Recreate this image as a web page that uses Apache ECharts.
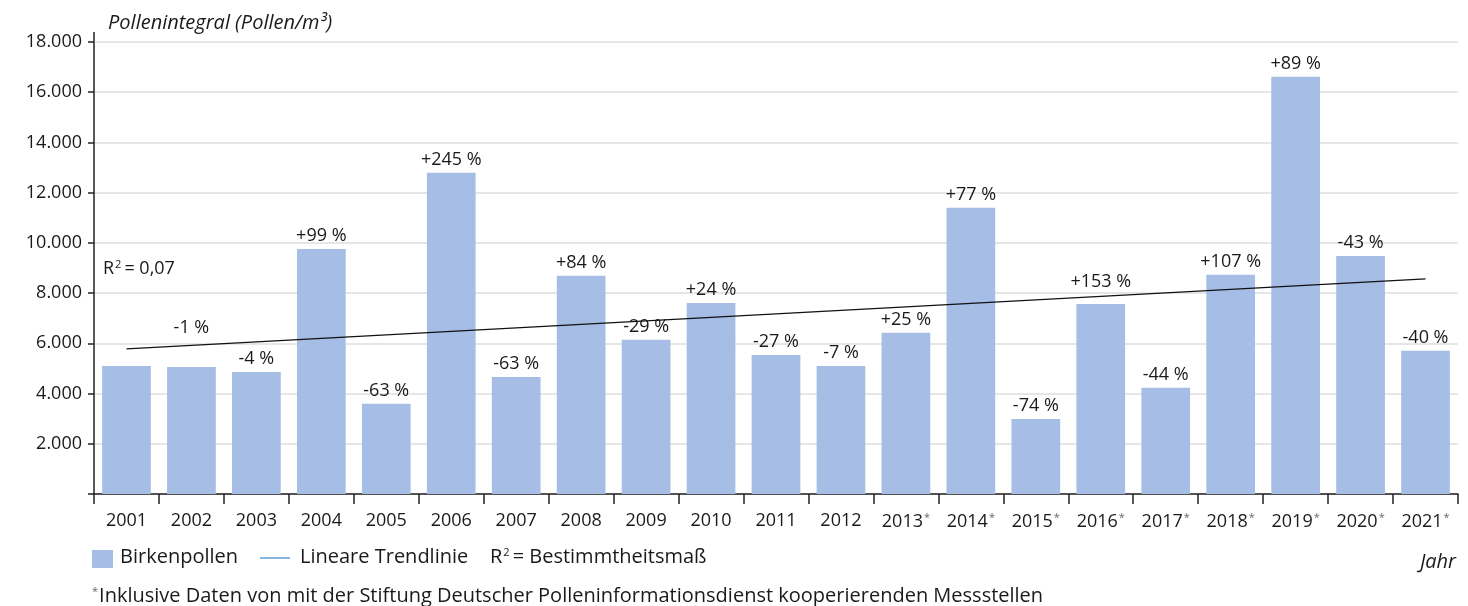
<!DOCTYPE html>
<html><head><meta charset="utf-8">
<script src="https://cdn.jsdelivr.net/npm/echarts@6/dist/echarts.min.js"></script>
<style>html,body{margin:0;padding:0;background:#fff}#c{width:1468px;height:606px}</style>
</head><body><div id="c"></div>
<script>
const years = ['2001','2002','2003','2004','2005','2006','2007','2008','2009','2010','2011','2012','2013*','2014*','2015*','2016*','2017*','2018*','2019*','2020*','2021*'];
const birkenpollen = [5100,5060,4860,9760,3590,12790,4660,8690,6140,7610,5540,5100,6420,11400,2990,7570,4230,8730,16620,9480,5700];
const changeLabels = ['','-1 %','-4 %','+99 %','-63 %','+245 %','-63 %','+84 %','-29 %','+24 %','-27 %','-7 %','+25 %','+77 %','-74 %','+153 %','-44 %','+107 %','+89 %','-43 %','-40 %'];
const trendStart = 5780, trendEnd = 8570;
const yTicks = [2000,4000,6000,8000,10000,12000,14000,16000,18000];

const FONT = '"Open Sans","Noto Sans",sans-serif';
const extraLift = {1: 26, 15: 9};

const chart = echarts.init(document.getElementById('c'), null, {renderer:'canvas'});
const barData = birkenpollen.map((v,i)=>({
  value: v,
  label: {formatter: changeLabels[i], offset: [0, -(extraLift[i]||0)]}
}));
const supRich = (size, col) => ({a: {fontFamily: FONT, fontSize: size, fill: col, color: col}, s: {fontFamily: FONT, fontSize: 11, fill: col, color: col, verticalAlign: 'top', padding: [0, 3, 9, 1]}});

chart.setOption({
  animation: false,
  grid: {left: 94, right: 10, top: 42, bottom: 112, containLabel: false},
  xAxis: {
    type: 'category', data: years, boundaryGap: true,
    axisLine: {lineStyle: {color: '#222', width: 1.5}},
    axisTick: {show: true, alignWithLabel: false, interval: 0, length: 10, lineStyle: {color: '#222', width: 1.5}},
    axisLabel: {
      interval: 0, margin: 18, color: '#1a1a1a', fontFamily: FONT, fontSize: 18,
      formatter: function(v){ return v.endsWith('*') ? '{a|'+v.slice(0,-1)+'}{s|*}' : '{a|'+v+'}'; },
      rich: {a: {fontFamily: FONT, fontSize: 18, color: '#1a1a1a'}, s: {fontFamily: FONT, fontSize: 11, color: '#666', verticalAlign: 'top', padding:[0,0,8,1]}}
    }
  },
  yAxis: {
    type: 'value', min: 0, max: 18000, interval: 2000,
    axisLine: {show: true, lineStyle: {color: '#222', width: 1.5}},
    axisTick: {show: true, length: 6, lineStyle: {color: '#222', width: 1.5}},
    splitLine: {show: true, lineStyle: {color: '#dedede', width: 1.5}},
    axisLabel: {
      margin: 12, color: '#1a1a1a', fontFamily: FONT, fontSize: 18,
      formatter: function(v){ if (v === 0 || yTicks.indexOf(v) < 0) return ''; return String(v).replace(/\B(?=(\d{3})+(?!\d))/g, '.'); }
    }
  },
  series: [
    {
      name: 'Birkenpollen', type: 'bar', data: barData, barCategoryGap: '25%',
      itemStyle: {color: '#a6bde6'},
      label: {show: true, position: 'top', distance: 4, color: '#1a1a1a', fontFamily: FONT, fontSize: 18},
      z: 2
    },
    {
      name: 'Lineare Trendlinie', type: 'line',
      data: [[years[0], trendStart], [years[years.length-1], trendEnd]],
      symbol: 'none', lineStyle: {color: '#111', width: 1.3}, z: 3
    }
  ],
  graphic: [
    {type: 'line', shape: {x1: 94, y1: 32, x2: 94, y2: 43}, style: {stroke: '#222', lineWidth: 1.5}},
    {type: 'text', left: 108, top: 13, style: {text: 'Pollenintegral (Pollen/m³)', font: 'italic 20px ' + FONT, fill: '#1a1a1a'}},
    {type: 'text', left: 103, top: 259, style: {rich: supRich(18, '#1a1a1a'), text: '{a|R}{s|2}{a|= 0,07}'}},
    {type: 'rect', shape: {x: 92, y: 550, width: 21, height: 18}, style: {fill: '#a6bde6'}},
    {type: 'text', left: 120, top: 547, style: {text: 'Birkenpollen', font: '20px ' + FONT, fill: '#1a1a1a'}},
    {type: 'line', shape: {x1: 260, y1: 558, x2: 290, y2: 558}, style: {stroke: '#5b9bd5', lineWidth: 1.5}},
    {type: 'text', left: 300, top: 547, style: {text: 'Lineare Trendlinie', font: '20px ' + FONT, fill: '#1a1a1a'}},
    {type: 'text', left: 490, top: 547, style: {rich: supRich(20, '#1a1a1a'), text: '{a|R}{s|2}{a|= Bestimmtheitsmaß}'}},
    {type: 'text', right: 12, top: 552, style: {text: 'Jahr', font: 'italic 20px ' + FONT, fill: '#1a1a1a'}},
    {type: 'text', left: 92, top: 586, style: {rich: {a: {fontFamily: FONT, fontSize: 20, fill: '#1a1a1a'}, s: {fontFamily: FONT, fontSize: 11, fill: '#666', verticalAlign: 'top', padding: [0,1,9,0]}},
      text: '{s|*}{a|Inklusive Daten von mit der Stiftung Deutscher Polleninformationsdienst kooperierenden Messstellen}'}}
  ]
});
</script></body></html>
